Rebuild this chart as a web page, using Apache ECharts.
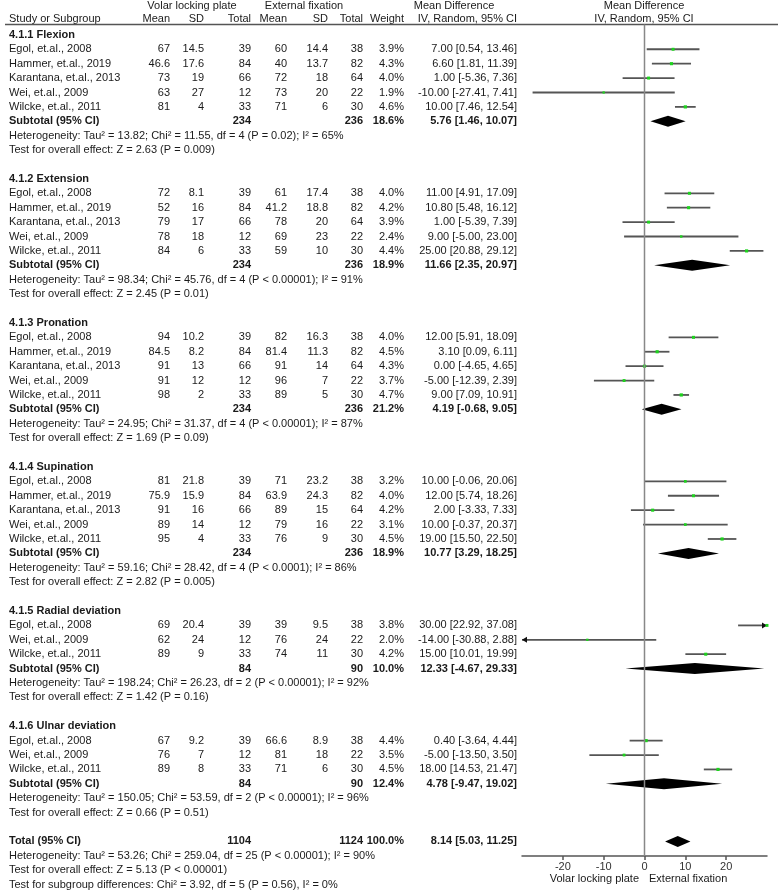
<!DOCTYPE html>
<html>
<head>
<meta charset="utf-8">
<title>Forest plot</title>
<script src="https://cdn.jsdelivr.net/npm/echarts@6/dist/echarts.min.js"></script>
<style>
  html, body { margin: 0; padding: 0; background: #fff; }
  #main { width: 778px; height: 894px; }
</style>
</head>
<body>
<div id="main"></div>
<script type="text/javascript">

// subgroups
var groupNames = ['4.1.1 Flexion', '4.1.2 Extension', '4.1.3 Pronation', '4.1.4 Supination',
  '4.1.5 Radial deviation', '4.1.6 Ulnar deviation'];

// studies (in row order)
var studyGroup = [0, 0, 0, 0, 0, 1, 1, 1, 1, 1, 2, 2, 2, 2, 2, 3, 3, 3, 3, 3, 4, 4, 4, 5, 5, 5];
var studyNames = [
  'Egol, et.al., 2008', 'Hammer, et.al., 2019', 'Karantana, et.al., 2013', 'Wei, et.al., 2009', 'Wilcke, et.al., 2011',
  'Egol, et.al., 2008', 'Hammer, et.al., 2019', 'Karantana, et.al., 2013', 'Wei, et.al., 2009', 'Wilcke, et.al., 2011',
  'Egol, et.al., 2008', 'Hammer, et.al., 2019', 'Karantana, et.al., 2013', 'Wei, et.al., 2009', 'Wilcke, et.al., 2011',
  'Egol, et.al., 2008', 'Hammer, et.al., 2019', 'Karantana, et.al., 2013', 'Wei, et.al., 2009', 'Wilcke, et.al., 2011',
  'Egol, et.al., 2008', 'Wei, et.al., 2009', 'Wilcke, et.al., 2011',
  'Egol, et.al., 2008', 'Wei, et.al., 2009', 'Wilcke, et.al., 2011'];
var vlpMean = [67, 46.6, 73, 63, 81, 72, 52, 79, 78, 84, 94, 84.5, 91, 91, 98, 81, 75.9, 91, 89, 95, 69, 62, 89, 67, 76, 89];
var vlpSD = [14.5, 17.6, 19, 27, 4, 8.1, 16, 17, 18, 6, 10.2, 8.2, 13, 12, 2, 21.8, 15.9, 16, 14, 4, 20.4, 24, 9, 9.2, 7, 8];
var vlpN = [39, 84, 66, 12, 33, 39, 84, 66, 12, 33, 39, 84, 66, 12, 33, 39, 84, 66, 12, 33, 39, 12, 33, 39, 12, 33];
var efMean = [60, 40, 72, 73, 71, 61, 41.2, 78, 69, 59, 82, 81.4, 91, 96, 89, 71, 63.9, 89, 79, 76, 39, 76, 74, 66.6, 81, 71];
var efSD = [14.4, 13.7, 18, 20, 6, 17.4, 18.8, 20, 23, 10, 16.3, 11.3, 14, 7, 5, 23.2, 24.3, 15, 16, 9, 9.5, 24, 11, 8.9, 18, 6];
var efN = [38, 82, 64, 22, 30, 38, 82, 64, 22, 30, 38, 82, 64, 22, 30, 38, 82, 64, 22, 30, 38, 22, 30, 38, 22, 30];
var weights = [3.9, 4.3, 4.0, 1.9, 4.6, 4.0, 4.2, 3.9, 2.4, 4.4, 4.0, 4.5, 4.3, 3.7, 4.7, 3.2, 4.0, 4.2, 3.1, 4.5, 3.8, 2.0, 4.2, 4.4, 3.5, 4.5];
var md = [7.00, 6.60, 1.00, -10.00, 10.00, 11.00, 10.80, 1.00, 9.00, 25.00, 12.00, 3.10, 0.00, -5.00, 9.00,
  10.00, 12.00, 2.00, 10.00, 19.00, 30.00, -14.00, 15.00, 0.40, -5.00, 18.00];
var ciLow = [0.54, 1.81, -5.36, -27.41, 7.46, 4.91, 5.48, -5.39, -5.00, 20.88, 5.91, 0.09, -4.65, -12.39, 7.09,
  -0.06, 5.74, -3.33, -0.37, 15.50, 22.92, -30.88, 10.01, -3.64, -13.50, 14.53];
var ciHigh = [13.46, 11.39, 7.36, 7.41, 12.54, 17.09, 16.12, 7.39, 23.00, 29.12, 18.09, 6.11, 4.65, 2.39, 10.91,
  20.06, 18.26, 7.33, 20.37, 22.50, 37.08, 2.88, 19.99, 4.44, 3.50, 21.47];

// subtotals
var subN1 = [234, 234, 234, 234, 84, 84];
var subN2 = [236, 236, 236, 236, 90, 90];
var subWeight = [18.6, 18.9, 21.2, 18.9, 10.0, 12.4];
var subMd = [5.76, 11.66, 4.19, 10.77, 12.33, 4.78];
var subLow = [1.46, 2.35, -0.68, 3.29, -4.67, -9.47];
var subHigh = [10.07, 20.97, 9.05, 18.25, 29.33, 19.02];
var hetText = [
  'Heterogeneity: Tau\u00b2 = 13.82; Chi\u00b2 = 11.55, df = 4 (P = 0.02); I\u00b2 = 65%',
  'Heterogeneity: Tau\u00b2 = 98.34; Chi\u00b2 = 45.76, df = 4 (P < 0.00001); I\u00b2 = 91%',
  'Heterogeneity: Tau\u00b2 = 24.95; Chi\u00b2 = 31.37, df = 4 (P < 0.00001); I\u00b2 = 87%',
  'Heterogeneity: Tau\u00b2 = 59.16; Chi\u00b2 = 28.42, df = 4 (P < 0.0001); I\u00b2 = 86%',
  'Heterogeneity: Tau\u00b2 = 198.24; Chi\u00b2 = 26.23, df = 2 (P < 0.00001); I\u00b2 = 92%',
  'Heterogeneity: Tau\u00b2 = 150.05; Chi\u00b2 = 53.59, df = 2 (P < 0.00001); I\u00b2 = 96%'];
var effectText = [
  'Test for overall effect: Z = 2.63 (P = 0.009)',
  'Test for overall effect: Z = 2.45 (P = 0.01)',
  'Test for overall effect: Z = 1.69 (P = 0.09)',
  'Test for overall effect: Z = 2.82 (P = 0.005)',
  'Test for overall effect: Z = 1.42 (P = 0.16)',
  'Test for overall effect: Z = 0.66 (P = 0.51)'];

// overall
var totalN1 = 1104, totalN2 = 1124, totalWeight = 100.0;
var totalMd = 8.14, totalLow = 5.03, totalHigh = 11.25;
var totalNotes = [
  'Heterogeneity: Tau\u00b2 = 53.26; Chi\u00b2 = 259.04, df = 25 (P < 0.00001); I\u00b2 = 90%',
  'Test for overall effect: Z = 5.13 (P < 0.00001)',
  'Test for subgroup differences: Chi\u00b2 = 3.92, df = 5 (P = 0.56), I\u00b2 = 0%'];

// axis
var xTicks = [-20, -10, 0, 10, 20];
var xMin = -30, xMax = 30;
var favourLeft = 'Volar locking plate', favourRight = 'External fixation';

// ---- layout ----
var FONT = '11px "Liberation Sans", Arial, sans-serif';
var BOLD = 'bold 11px "Liberation Sans", Arial, sans-serif';
var INK = '#1a1a1a';
var col = { name: 9, m1: 170, s1: 204, n1: 251, m2: 287, s2: 328, n2: 363, w: 404, ci: 517 };
var yTop = -0.72, yBottom = 57.01;

function ciText(m, lo, hi) {
  return m.toFixed(2) + ' [' + lo.toFixed(2) + ', ' + hi.toFixed(2) + ']';
}

// build rows
var rows = [];
var r = 0;
groupNames.forEach(function (g, gi) {
  rows.push({ r: r++, kind: 'title', text: g });
  studyGroup.forEach(function (sg, i) {
    if (sg === gi) rows.push({ r: r++, kind: 'study', i: i });
  });
  rows.push({ r: r++, kind: 'sub', g: gi });
  rows.push({ r: r++, kind: 'note', text: hetText[gi] });
  rows.push({ r: r++, kind: 'note', text: effectText[gi] });
  r++;
});
rows.push({ r: r++, kind: 'total' });
totalNotes.forEach(function (t) { rows.push({ r: r++, kind: 'note', text: t }); });
rows.push({ r: 0, kind: 'header' });

function txt(x, y, s, align, font) {
  return { type: 'text', x: x, y: y,
    style: { text: s, fill: INK, font: font || FONT, align: align || 'left', verticalAlign: 'middle' } };
}

function renderTable(params, api) {
  var row = rows[params.dataIndex];
  var y = api.coord([0, row.r])[1];
  var X = function (v) { return api.coord([v, 0])[0]; };
  var c = [];
  if (row.kind === 'header') {
    var y1 = api.coord([0, -2.0])[1], y2 = api.coord([0, -1.1])[1], yr = api.coord([0, yTop])[1];
    c.push(txt(X(192), y1, 'Volar locking plate', 'center'));
    c.push(txt(X(304), y1, 'External fixation', 'center'));
    c.push(txt(X(454), y1, 'Mean Difference', 'center'));
    c.push(txt(X(644), y1, 'Mean Difference', 'center'));
    c.push(txt(X(col.name), y2, 'Study or Subgroup'));
    c.push(txt(X(col.m1), y2, 'Mean', 'right'));
    c.push(txt(X(col.s1), y2, 'SD', 'right'));
    c.push(txt(X(col.n1), y2, 'Total', 'right'));
    c.push(txt(X(col.m2), y2, 'Mean', 'right'));
    c.push(txt(X(col.s2), y2, 'SD', 'right'));
    c.push(txt(X(col.n2), y2, 'Total', 'right'));
    c.push(txt(X(col.w), y2, 'Weight', 'right'));
    c.push(txt(X(col.ci), y2, 'IV, Random, 95% CI', 'right'));
    c.push(txt(X(644), y2, 'IV, Random, 95% CI', 'center'));
    c.push({ type: 'line', shape: { x1: X(5), y1: yr, x2: X(778), y2: yr },
      style: { stroke: '#555', lineWidth: 1.5 } });
    // favours labels under the axis
    var yf = api.coord([0, 58.6])[1];
    c.push(txt(X(639), yf, favourLeft, 'right'));
    c.push(txt(X(649), yf, favourRight, 'left'));
  } else if (row.kind === 'title') {
    c.push(txt(X(col.name), y, row.text, 'left', BOLD));
  } else if (row.kind === 'note') {
    c.push(txt(X(col.name), y, row.text));
  } else if (row.kind === 'study') {
    var i = row.i;
    c.push(txt(X(col.name), y, studyNames[i]));
    c.push(txt(X(col.m1), y, String(vlpMean[i]), 'right'));
    c.push(txt(X(col.s1), y, String(vlpSD[i]), 'right'));
    c.push(txt(X(col.n1), y, String(vlpN[i]), 'right'));
    c.push(txt(X(col.m2), y, String(efMean[i]), 'right'));
    c.push(txt(X(col.s2), y, String(efSD[i]), 'right'));
    c.push(txt(X(col.n2), y, String(efN[i]), 'right'));
    c.push(txt(X(col.w), y, weights[i].toFixed(1) + '%', 'right'));
    c.push(txt(X(col.ci), y, ciText(md[i], ciLow[i], ciHigh[i]), 'right'));
  } else if (row.kind === 'sub') {
    var g = row.g;
    c.push(txt(X(col.name), y, 'Subtotal (95% CI)', 'left', BOLD));
    c.push(txt(X(col.n1), y, String(subN1[g]), 'right', BOLD));
    c.push(txt(X(col.n2), y, String(subN2[g]), 'right', BOLD));
    c.push(txt(X(col.w), y, subWeight[g].toFixed(1) + '%', 'right', BOLD));
    c.push(txt(X(col.ci), y, ciText(subMd[g], subLow[g], subHigh[g]), 'right', BOLD));
  } else if (row.kind === 'total') {
    c.push(txt(X(col.name), y, 'Total (95% CI)', 'left', BOLD));
    c.push(txt(X(col.n1), y, String(totalN1), 'right', BOLD));
    c.push(txt(X(col.n2), y, String(totalN2), 'right', BOLD));
    c.push(txt(X(col.w), y, totalWeight.toFixed(1) + '%', 'right', BOLD));
    c.push(txt(X(col.ci), y, ciText(totalMd, totalLow, totalHigh), 'right', BOLD));
  }
  return { type: 'group', children: c };
}

function diamond(api, r, lo, m, hi) {
  var a = api.coord([lo, r]), b = api.coord([m, r]), d = api.coord([hi, r]);
  var h = 5.5;
  return { type: 'polygon',
    shape: { points: [[a[0], a[1]], [b[0], b[1] - h], [d[0], d[1]], [b[0], b[1] + h]] },
    style: { fill: '#000' } };
}

function renderForest(params, api) {
  var row = rows[params.dataIndex];
  var c = [];
  if (row.kind === 'header') {
    var p1 = api.coord([0, yTop]), p2 = api.coord([0, yBottom]);
    c.push({ type: 'line', shape: { x1: p1[0], y1: p1[1], x2: p2[0], y2: p2[1] },
      style: { stroke: '#888', lineWidth: 1.5 } });
  } else if (row.kind === 'study') {
    var i = row.i;
    var lo = Math.max(ciLow[i], xMin), hi = Math.min(ciHigh[i], xMax);
    var a = api.coord([lo, row.r]), b = api.coord([hi, row.r]);
    c.push({ type: 'line', shape: { x1: a[0], y1: a[1], x2: b[0], y2: b[1] },
      style: { stroke: '#555', lineWidth: 1.8 } });
    if (ciLow[i] < xMin) {
      c.push({ type: 'polygon', shape: { points: [[a[0], a[1]], [a[0] + 5, a[1] - 3], [a[0] + 5, a[1] + 3]] },
        style: { fill: '#111' } });
    }
    if (ciHigh[i] > xMax) {
      c.push({ type: 'polygon', shape: { points: [[b[0], b[1]], [b[0] - 5, b[1] - 3], [b[0] - 5, b[1] + 3]] },
        style: { fill: '#111' } });
    }
    var m = api.coord([md[i], row.r]);
    var s = 1.6 + weights[i] * 0.35;
    c.push({ type: 'rect', shape: { x: m[0] - s / 2, y: m[1] - s / 2, width: s, height: s },
      style: { fill: '#1ed21e' } });
  } else if (row.kind === 'sub') {
    c.push(diamond(api, row.r, subLow[row.g], subMd[row.g], subHigh[row.g]));
  } else if (row.kind === 'total') {
    c.push(diamond(api, row.r, totalLow, totalMd, totalHigh));
  }
  return { type: 'group', children: c };
}

var chart = echarts.init(document.getElementById('main'), null, { renderer: 'canvas' });
var rowData = rows.map(function (o) { return [0, o.r]; });

var option = {
  backgroundColor: '#fff',
  animation: false,
  grid: [
    { left: 0, right: 0, top: 24.5, bottom: 38, outerBoundsMode: 'none' },
    { left: 522, right: 11, top: 24.5, bottom: 38, outerBoundsMode: 'none' }
  ],
  xAxis: [
    { gridIndex: 0, type: 'value', min: 0, max: 778, show: false },
    { gridIndex: 1, type: 'value', min: xMin, max: xMax, interval: 10, position: 'bottom',
      axisLine: { onZero: false, lineStyle: { color: '#555', width: 1.5 } },
      axisTick: { show: true, length: 4, customValues: xTicks, lineStyle: { color: '#555', width: 1.5 } },
      axisLabel: { customValues: xTicks, color: '#333', fontSize: 11, fontFamily: '"Liberation Sans", Arial', margin: 5,
        formatter: function (v) { return xTicks.indexOf(v) >= 0 ? String(v) : ''; } },
      splitLine: { show: false } }
  ],
  yAxis: [
    { gridIndex: 0, type: 'value', min: yTop, max: yBottom, inverse: true, show: false },
    { gridIndex: 1, type: 'value', min: yTop, max: yBottom, inverse: true, show: false }
  ],
  series: [
    { type: 'custom', name: 'table', xAxisIndex: 0, yAxisIndex: 0, clip: false,
      renderItem: renderTable, data: rowData, silent: true },
    { type: 'custom', name: 'forest', xAxisIndex: 1, yAxisIndex: 1, clip: false,
      renderItem: renderForest, data: rowData, silent: true }
  ]
};
chart.setOption(option);
</script>
</body>
</html>
